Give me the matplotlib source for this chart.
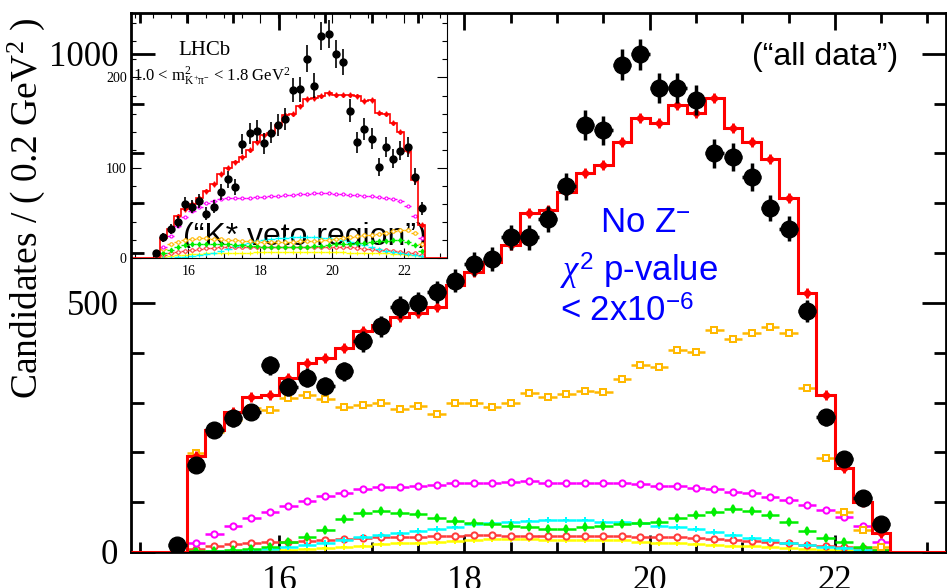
import numpy as np
import matplotlib
matplotlib.use("Agg")
import matplotlib.pyplot as plt
from matplotlib.ticker import MultipleLocator, FixedLocator
from matplotlib.transforms import Bbox, TransformedBbox

# ---------------- data: main panel (all data) ----------------
bin_width = 0.2
x_range = (14.4, 23.2)

# data points, bin centres 14.9 ... 22.5
data_x = np.round(np.arange(14.9, 22.55, bin_width), 1)
data_y = [15, 175, 245, 268, 281, 375, 331, 350, 334, 363, 423, 453, 492, 500,
          522, 545, 578, 588, 632, 632, 669, 734, 857, 847, 978, 999, 932, 932,
          908, 800, 793, 753, 691, 649, 484, 270, 187, 108, 56]

# fit model, bins 15.0 ... 22.6
model_edges = np.round(np.arange(15.0, 22.65, bin_width), 1)
model_x = np.round(model_edges[:-1] + bin_width / 2, 2)
total_fit = [193, 245, 281, 311, 315, 349, 379, 390, 410, 444, 456, 472, 480,
             492, 536, 562, 582, 616, 680, 687, 723, 761, 777, 824, 871, 861,
             898, 881, 912, 851, 824, 789, 711, 520, 315, 169, 100, 38]
comp_orange = [199, 240, 265, 289, 285, 309, 315, 307, 291, 295, 299, 287, 293,
               277, 299, 299, 291, 299, 320, 312, 318, 324, 322, 347, 375, 372,
               406, 402, 446, 428, 440, 452, 440, 329, 189, 80, 44, 10]
comp_magenta = [18, 36, 52, 68, 80, 92, 102, 113, 118, 126, 131, 131, 132, 134,
                138, 139, 139, 140, 142, 139, 139, 139, 139, 138, 136, 133, 133,
                128, 127, 121, 118, 111, 104, 94, 84, 71, 52, 20]
comp_green = [2, 3, 4, 6, 10, 20, 30, 44, 66, 78, 82, 78, 76, 68, 62, 58, 56,
              53, 50, 46, 46, 50, 52, 56, 58, 60, 68, 74, 80, 86, 82, 74, 60,
              42, 28, 20, 10, 5]
comp_cyan = [1, 2, 3, 4, 6, 10, 14, 18, 24, 30, 34, 38, 42, 46, 50, 56, 58, 60,
             62, 64, 64, 64, 60, 60, 58, 52, 50, 46, 40, 34, 28, 24, 18, 14, 10,
             8, 4, 2]
comp_red = [6, 12, 16, 18, 20, 20, 22, 24, 26, 28, 30, 31, 31, 32, 32, 34, 34,
            33, 33, 33, 33, 32, 32, 32, 31, 30, 30, 28, 26, 24, 22, 20, 18, 14,
            12, 10, 8, 4]
comp_yellow = [2, 3, 3, 4, 4, 5, 6, 8, 10, 12, 16, 18, 19, 20, 22, 24, 26, 26,
               26, 25, 25, 25, 24, 24, 20, 19, 18, 16, 14, 13, 12, 10, 8, 7, 5,
               4, 3, 2]

# ---------------- data: inset (K* veto region) ----------------
inset_data_x = np.round(np.arange(15.1, 22.55, bin_width), 1)
inset_data_y = [6, 23, 32, 40, 60, 57, 63, 49, 57, 73, 87, 79, 126, 138, 141,
                127, 139, 147, 154, 186, 187, 221, 191, 246, 248, 226, 217, 163,
                128, 143, 132, 101, 123, 110, 119, 123, 90, 55]
inset_edges = np.round(np.arange(15.2, 22.65, bin_width), 1)
inset_x = np.round(inset_edges[:-1] + bin_width / 2, 2)
inset_total = [22, 32, 46, 54, 60, 66, 74, 82, 93, 100, 106, 112, 120, 128, 136,
               139, 147, 158, 160, 168, 176, 177, 180, 183, 181, 181, 181, 179,
               174, 175, 161, 160, 150, 140, 118, 86, 37]
inset_magenta = [12, 24, 35, 45, 52, 57, 61, 63, 65, 66, 66, 67, 67, 68, 68, 69,
                 69, 70, 70, 71, 71, 72, 72, 72, 71, 71, 70, 70, 69, 69, 68, 67,
                 65, 63, 58, 46, 22]
inset_orange = [10, 15, 18, 20, 21, 22, 22, 21, 21, 20, 20, 19, 19, 18, 18, 18,
                18, 18, 18, 19, 19, 19, 20, 20, 21, 22, 23, 24, 25, 26, 27, 28,
                30, 31, 31, 28, 15]
inset_green = [5, 9, 12, 14, 15, 16, 16, 16, 15, 15, 14, 14, 13, 13, 12, 12, 12,
               12, 12, 12, 12, 13, 13, 14, 15, 15, 16, 17, 17, 18, 19, 19, 20,
               20, 18, 14, 8]
inset_cyan = [0, 0, 1, 1, 2, 3, 4, 6, 8, 10, 13, 15, 17, 19, 20, 21, 22, 22, 23,
              23, 23, 23, 22, 22, 21, 20, 18, 16, 14, 12, 10, 8, 7, 5, 4, 3, 2]
inset_red = [3, 5, 7, 8, 9, 10, 11, 11, 12, 12, 12, 12, 12, 12, 12, 12, 12, 12,
             12, 12, 12, 12, 12, 12, 12, 12, 12, 11, 10, 10, 9, 9, 8, 7, 6, 5, 3]
inset_yellow = [1, 2, 3, 3, 4, 4, 5, 5, 5, 6, 6, 6, 6, 7, 7, 7, 7, 7, 7, 7, 7, 7,
                7, 7, 7, 7, 6, 6, 6, 5, 5, 5, 4, 4, 3, 3, 2]

# ---------------- styles ----------------
ORANGE = "#FFB800"
MAGENTA = "#FF00FF"
GREEN = "#00EE00"
CYAN = "#00FFFF"
RED_C = "#FF3C3C"
YELLOW = "#FFFF00"
BLUE = "#0000FF"

plt.rcParams["font.family"] = "Liberation Serif"
plt.rcParams["mathtext.fontset"] = "custom"
plt.rcParams["mathtext.rm"] = "Liberation Serif"
plt.rcParams["mathtext.it"] = "Liberation Serif:italic"
plt.rcParams["mathtext.sf"] = "Liberation Sans"

W, H = 947, 588
fig = plt.figure(figsize=(W / 100, H / 100), dpi=100)
fig.patch.set_facecolor("white")


def fx(px):
    return px / W


def fy(py):
    return 1 - py / H


# main panel drawn above the inset (transparent background) so its frame shows
ax = fig.add_axes([fx(131), fy(552), (946 - 131) / W, (552 - 12.5) / H])
ax.set_zorder(3)
ax.patch.set_visible(False)

ins = fig.add_axes([fx(131), fy(258), (447 - 131) / W, (258 - 12.5) / H])
ins.set_zorder(2)
ins.set_facecolor("white")


def component(axx, x, y, color, marker, ms, mfc, lw, z):
    axx.errorbar(x, y, xerr=bin_width / 2, fmt=marker, color=color, ms=ms,
                 mfc=mfc, mec=color, mew=lw * 0.8, elinewidth=lw, capsize=0,
                 zorder=z)


def padded(edges, values):
    e = np.concatenate(([x_range[0]], edges, [x_range[1]]))
    v = np.concatenate(([0], values, [0]))
    return v, e


# ---- main panel ----
component(ax, model_x, comp_yellow, YELLOW, "+", 5, YELLOW, 1.8, 2.0)
component(ax, model_x, comp_red, RED_C, "o", 4.5, "white", 1.8, 2.1)
component(ax, model_x, comp_cyan, CYAN, "+", 5, CYAN, 1.8, 2.2)
component(ax, model_x, comp_green, GREEN, "d", 4, GREEN, 1.8, 2.3)
component(ax, model_x, comp_magenta, MAGENTA, "o", 4.5, "white", 1.8, 2.4)
component(ax, model_x, comp_orange, ORANGE, "s", 5, "white", 1.8, 2.5)

v, e = padded(model_edges, total_fit)
ax.stairs(v, e, color="red", lw=2.2, baseline=None, zorder=4)
ax.errorbar(model_x, total_fit, yerr=10, fmt="D", ms=4, color="red",
            elinewidth=2, capsize=0, zorder=4.5)

ax.errorbar(data_x, data_y, yerr=np.sqrt(data_y), xerr=bin_width / 2, fmt="o",
            color="black", ms=12, elinewidth=2.5, capsize=0, zorder=6)

ax.set_xlim(*x_range)
ax.set_ylim(0, 1083)
ax.xaxis.set_major_locator(FixedLocator([16, 18, 20, 22]))
ax.xaxis.set_minor_locator(MultipleLocator(0.5))
ax.yaxis.set_major_locator(MultipleLocator(500))
ax.yaxis.set_minor_locator(MultipleLocator(100))
ax.tick_params(axis="x", which="major", direction="in", length=12, width=2,
               top=True, bottom=True, labelsize=25, pad=9)
ax.tick_params(axis="x", which="minor", direction="in", length=7, width=2,
               top=True, bottom=True)
ax.tick_params(axis="y", which="major", direction="in", length=17, width=2,
               left=True, right=True, labelsize=25, pad=9)
ax.tick_params(axis="y", which="minor", direction="in", length=9, width=2,
               left=True, right=True)
for s in ax.spines.values():
    s.set_linewidth(2)

fig.text(fx(26), fy(208), r"Candidates / ( 0.2 GeV$^{\mathrm{2}}$ )",
         rotation=90, ha="center", va="center", fontsize=27,
         family="Liberation Serif")

fig.text(fx(898), fy(57), "(\u201call data\u201d)", ha="right", va="center",
         fontsize=23, family="Liberation Sans", zorder=10)

fig.text(fx(600), fy(232), r"No Z$^{\mathsf{-}}$", ha="left", va="baseline",
         fontsize=25, family="Liberation Sans", color=BLUE, zorder=10)
fig.text(fx(560), fy(282), r"$\chi^{\mathsf{2}}$ p-value", ha="left",
         va="baseline", fontsize=25, family="Liberation Sans", color=BLUE,
         zorder=10)
fig.text(fx(560), fy(322), r"< 2x10$^{\mathsf{-6}}$", ha="left",
         va="baseline", fontsize=25, family="Liberation Sans", color=BLUE,
         zorder=10)

# ---- inset panel ----
veto = ins.text(fx(183), fy(245), "(\u201cK* veto region\u201d)",
                transform=fig.transFigure, ha="left", va="baseline",
                fontsize=23, family="Liberation Sans", zorder=1.5)
veto.set_clip_box(TransformedBbox(Bbox([[0, fy(247.5)], [1, 1]]),
                                  fig.transFigure))
veto.set_clip_on(True)

component(ins, inset_x, inset_yellow, YELLOW, "+", 3, YELLOW, 1.0, 2.0)
component(ins, inset_x, inset_red, RED_C, "o", 2.5, "white", 1.0, 2.1)
component(ins, inset_x, inset_cyan, CYAN, "+", 3, CYAN, 1.0, 2.2)
component(ins, inset_x, inset_green, GREEN, "d", 2.5, GREEN, 1.0, 2.3)
component(ins, inset_x, inset_orange, ORANGE, "o", 2.5, "white", 1.0, 2.4)
component(ins, inset_x, inset_magenta, MAGENTA, "o", 2.2, "white", 1.0, 2.5)

v, e = padded(inset_edges, inset_total)
ins.stairs(v, e, color="red", lw=1.2, baseline=None, zorder=4)
ins.errorbar(inset_x, inset_total, yerr=3, fmt="D", ms=2, color="red",
             elinewidth=1, capsize=0, zorder=4.5)

ins.errorbar(inset_data_x, inset_data_y, yerr=np.sqrt(inset_data_y), fmt="o",
             color="black", ms=5, elinewidth=1.2, capsize=0, zorder=6)

ins.set_xlim(*x_range)
ins.set_ylim(0, 272)
ins.xaxis.set_major_locator(FixedLocator([16, 18, 20, 22]))
ins.xaxis.set_minor_locator(MultipleLocator(0.5))
ins.yaxis.set_major_locator(MultipleLocator(100))
ins.yaxis.set_minor_locator(MultipleLocator(20))
ins.tick_params(which="both", direction="in", top=True, right=True, width=0.8,
                labelsize=10)
ins.tick_params(which="major", length=7)
ins.tick_params(which="minor", length=3.5)
ins.tick_params(axis="x", pad=5)
ins.tick_params(axis="y", pad=3)
for s in ins.spines.values():
    s.set_linewidth(0.8)

ins.text(fx(178), fy(55), "LHCb", transform=fig.transFigure, ha="left",
         va="baseline", fontsize=15, family="Liberation Serif", zorder=7)
ins.text(fx(133), fy(82),
         r"1.0 < $\mathrm{m}^{\mathrm{2}}_{\mathrm{K^{+}\pi^{-}}}$ < 1.8 GeV$^{\mathrm{2}}$",
         transform=fig.transFigure, ha="left", va="baseline", fontsize=12,
         family="Liberation Serif", zorder=7)

fig.savefig("out.png", dpi=100)
